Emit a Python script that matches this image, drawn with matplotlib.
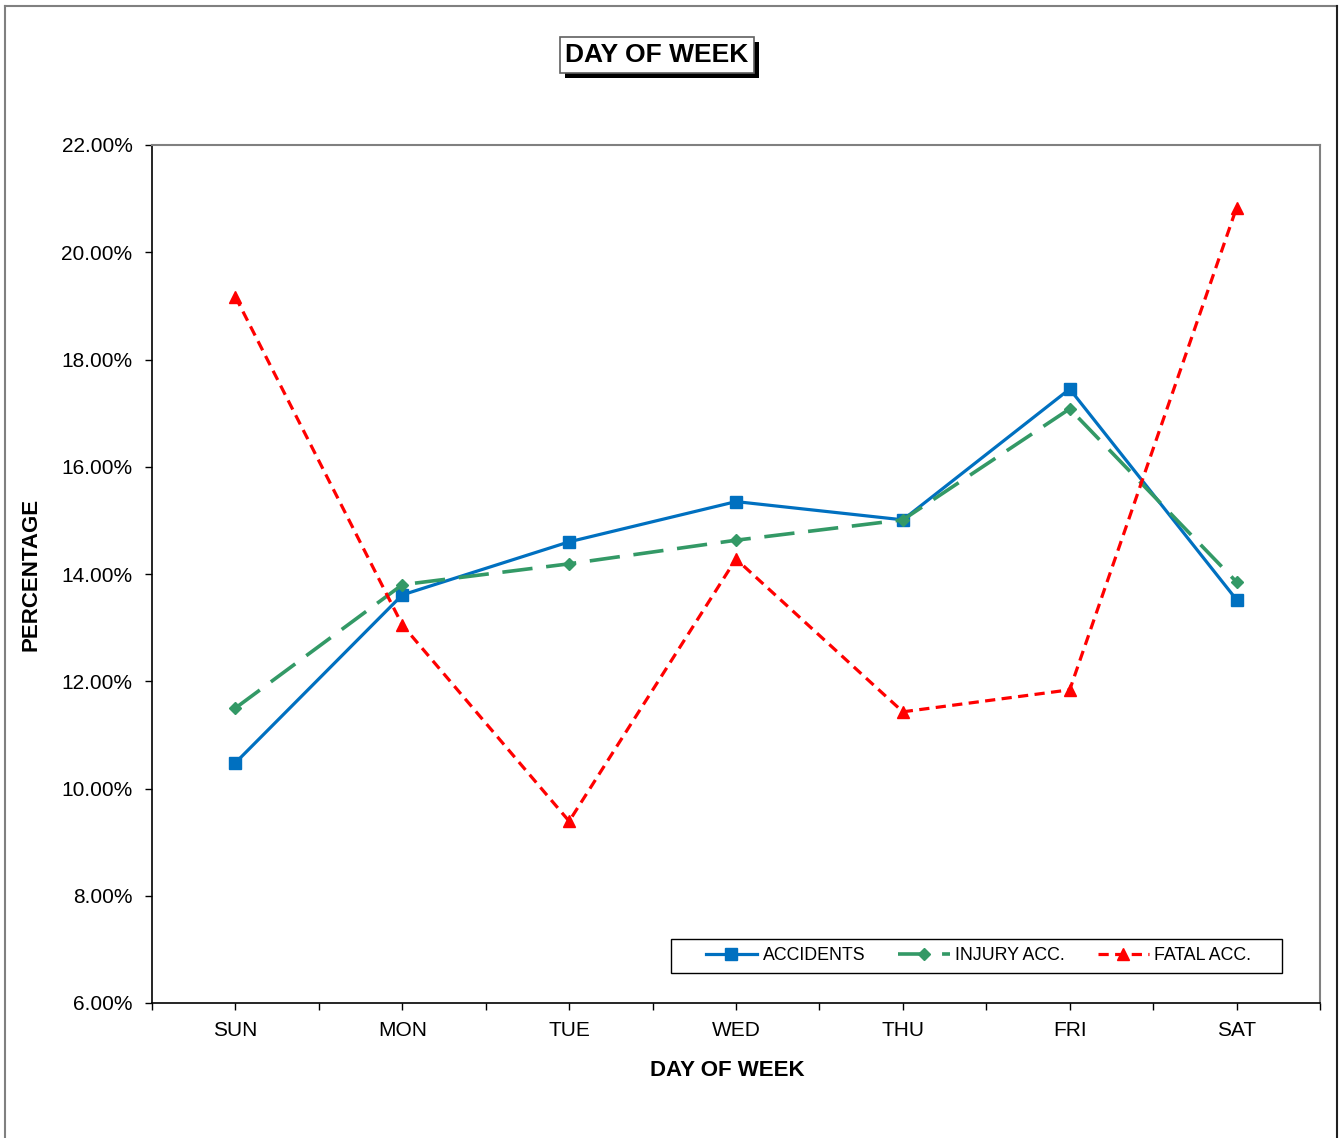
import matplotlib
matplotlib.use("Agg")
import matplotlib.pyplot as plt
from matplotlib.ticker import FixedLocator, FuncFormatter
from matplotlib.lines import Line2D
from matplotlib.patches import Rectangle

plt.rcParams['font.family'] = ['Liberation Sans', 'DejaVu Sans']

days = ["SUN", "MON", "TUE", "WED", "THU", "FRI", "SAT"]
accidents = [10.48, 13.61, 14.60, 15.35, 15.01, 17.45, 13.52]
injury_acc = [11.50, 13.80, 14.19, 14.63, 15.01, 17.08, 13.85]
fatal_acc = [19.17, 13.05, 9.39, 14.28, 11.43, 11.84, 20.83]
y_ticks = [6, 8, 10, 12, 14, 16, 18, 20, 22]

W, H = 1343, 1138
fig = plt.figure(figsize=(W / 100, H / 100), dpi=100)
ax = fig.add_axes([152 / W, 1 - 1003 / H, (1320 - 152) / W, (1003 - 145) / H])

x = list(range(len(days)))
ax.plot(x, accidents, color="#0070C0", lw=2.3, marker="s", markersize=8.5,
        label="ACCIDENTS", zorder=3)
ax.plot(x, injury_acc, color="#339966", lw=2.6, marker="D", markersize=6.5,
        dashes=(8.4, 3.8), label="INJURY ACC.", zorder=4)
ax.plot(x, fatal_acc, color="#FF0000", lw=2.3, marker="^", markersize=9,
        dashes=(3.2, 2.0), label="FATAL ACC.", zorder=5)

ax.set_xlim(-0.5, len(days) - 0.5)
ax.set_ylim(6, 22)
ax.set_xticks(x)
ax.set_xticklabels(days, fontsize=15)
ax.xaxis.set_minor_locator(FixedLocator([i - 0.5 for i in range(len(days) + 1)]))
ax.set_yticks(y_ticks)
ax.yaxis.set_major_formatter(FuncFormatter(lambda v, p: f"{v:.2f}%"))
ax.tick_params(axis="y", labelsize=15, direction="out", length=5, width=1, pad=9)
ax.tick_params(axis="x", which="both", direction="out", length=5, width=1, pad=8)

for s in ("left", "bottom"):
    ax.spines[s].set_color("black")
    ax.spines[s].set_linewidth(1.2)
for s in ("top", "right"):
    ax.spines[s].set_color("#808080")
    ax.spines[s].set_linewidth(1.5)

ax.set_xlabel("DAY OF WEEK", fontsize=16, fontweight="bold", labelpad=14)
ax.xaxis.label.set_x((727 - 152) / (1320 - 152))
ax.set_ylabel("PERCENTAGE", fontsize=16, fontweight="bold", labelpad=14)

# Title with shadow box
title = fig.text(657 / W, 1 - 55 / H, "DAY OF WEEK", fontsize=19, fontweight="bold",
                 color="black", ha="center", va="center", zorder=10,
                 bbox=dict(boxstyle="square,pad=0.22", facecolor="white",
                           edgecolor="#606060", lw=1.2))

# Legend (frame drawn separately to match the wide padding)
ax.add_patch(Rectangle((671 / W, 1 - 973 / H), (1282 - 671) / W, 34 / H,
                       transform=fig.transFigure, facecolor="white",
                       edgecolor="black", lw=1.0, zorder=5.5, clip_on=False))
leg = ax.legend(loc="center", bbox_to_anchor=(978.5 / W, 1 - 956 / H),
                bbox_transform=fig.transFigure, ncol=3, fontsize=12.8,
                frameon=False, handlelength=2.9, handletextpad=0.3,
                columnspacing=1.85, numpoints=1, borderpad=0.2)
leg.set_zorder(6)

# Outer chart border
fig.add_artist(Line2D([5 / W, 1337 / W], [1 - 6 / H, 1 - 6 / H], transform=fig.transFigure,
                      color="#808080", lw=1.5))
fig.add_artist(Line2D([5 / W, 5 / W], [1 - 6 / H, 0], transform=fig.transFigure,
                      color="#808080", lw=1.5))
fig.add_artist(Line2D([1337 / W, 1337 / W], [1 - 6 / H, 0], transform=fig.transFigure,
                      color="#202020", lw=1.5))

# Shadow behind title box
fig.canvas.draw()
bb = title.get_bbox_patch().get_window_extent()
fig.add_artist(Rectangle(((bb.x0 + 5) / W, (bb.y0 - 5) / H), bb.width / W, bb.height / H,
                         transform=fig.transFigure, facecolor="black",
                         edgecolor="black", lw=0, zorder=9))

fig.savefig("out.png", dpi=100)
